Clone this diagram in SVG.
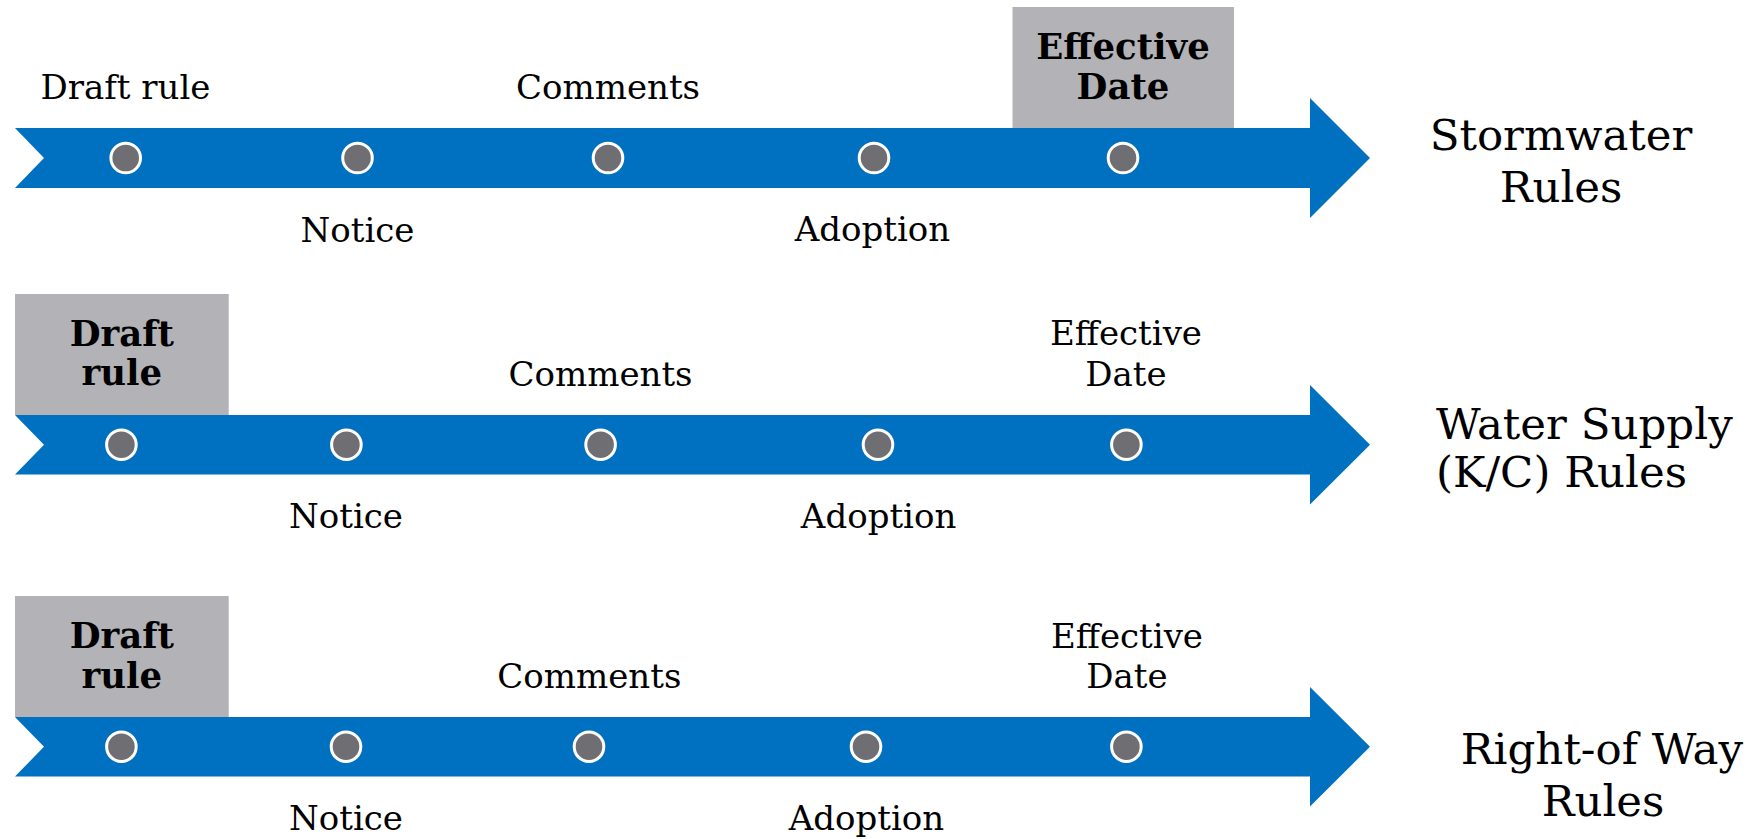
<svg xmlns="http://www.w3.org/2000/svg" width="1761" height="839" viewBox="0 0 1761 839">
<style>
.bar{fill:#0070c0}
.box{fill:#b3b2b7}
.dot{fill:#6f6e73;stroke:#ffffff;stroke-width:3}
text{font-family:"DejaVu Serif","Liberation Serif",serif;fill:#000;text-anchor:middle}
.lbl{font-size:34px}
.bold{font-size:35.5px;font-weight:bold}
.title{font-size:43.5px}
</style>
<rect width="1761" height="839" fill="#ffffff"/>
<g id="connectors">
<polygon class="bar" points="15,128 1310,128 1310,98 1370,158 1310,218 1310,188 15,188 44,158"/>
<polygon class="bar" points="15,415 1310,415 1310,385 1370,444.7 1310,504.5 1310,474.5 15,474.5 44,444.7"/>
<polygon class="bar" points="15,717 1310,717 1310,687 1370,746.7 1310,806.5 1310,776.5 15,776.5 44,746.7"/>
</g>
<g id="row1">
<g id="r1-effective-box"><rect class="box" x="1012.5" y="7" width="221.5" height="121"/>
<text class="bold" x="1123" y="59">Effective</text><text class="bold" x="1123" y="99">Date</text></g>
<g id="r1-draft"><circle class="dot" cx="125.7" cy="158" r="14.8"/><text class="lbl" x="125.5" y="99">Draft rule</text></g>
<g id="r1-notice"><circle class="dot" cx="357.5" cy="158" r="14.8"/><text class="lbl" x="357.5" y="241.5">Notice</text></g>
<g id="r1-comments"><circle class="dot" cx="608" cy="158" r="14.8"/><text class="lbl" x="608" y="99">Comments</text></g>
<g id="r1-adoption"><circle class="dot" cx="874" cy="158" r="14.8"/><text class="lbl" x="872.5" y="241">Adoption</text></g>
<g id="r1-effective"><circle class="dot" cx="1123" cy="158" r="14.8"/></g>
<g id="r1-title"><text class="title" x="1561" y="150">Stormwater</text><text class="title" x="1561" y="201.5">Rules</text></g>
</g>
<g id="row2">
<g id="r2-draft"><rect class="box" x="15" y="294" width="213.7" height="121"/>
<text class="bold" x="121.8" y="345.7">Draft</text><text class="bold" x="121.8" y="385">rule</text>
<circle class="dot" cx="121.4" cy="444.7" r="14.8"/></g>
<g id="r2-notice"><circle class="dot" cx="346.4" cy="444.7" r="14.8"/><text class="lbl" x="346" y="528.3">Notice</text></g>
<g id="r2-comments"><circle class="dot" cx="600.6" cy="444.7" r="14.8"/><text class="lbl" x="600.5" y="386">Comments</text></g>
<g id="r2-adoption"><circle class="dot" cx="878" cy="444.7" r="14.8"/><text class="lbl" x="878.6" y="528">Adoption</text></g>
<g id="r2-effective"><circle class="dot" cx="1126.4" cy="444.7" r="14.8"/><text class="lbl" x="1126" y="345">Effective</text><text class="lbl" x="1126" y="386">Date</text></g>
<g id="r2-title"><text class="title" x="1436" y="439" style="text-anchor:start">Water Supply</text><text class="title" x="1436" y="487" style="text-anchor:start">(K/C) Rules</text></g>
</g>
<g id="row3">
<g id="r3-draft"><rect class="box" x="15" y="596" width="213.7" height="121"/>
<text class="bold" x="121.8" y="648.3">Draft</text><text class="bold" x="121.8" y="688.3">rule</text>
<circle class="dot" cx="121.4" cy="746.7" r="14.8"/></g>
<g id="r3-notice"><circle class="dot" cx="346" cy="746.7" r="14.8"/><text class="lbl" x="346" y="830">Notice</text></g>
<g id="r3-comments"><circle class="dot" cx="589" cy="746.7" r="14.8"/><text class="lbl" x="589.3" y="688.3">Comments</text></g>
<g id="r3-adoption"><circle class="dot" cx="866" cy="746.7" r="14.8"/><text class="lbl" x="866.5" y="830">Adoption</text></g>
<g id="r3-effective"><circle class="dot" cx="1126.4" cy="746.7" r="14.8"/><text class="lbl" x="1127" y="648.3">Effective</text><text class="lbl" x="1127" y="688.3">Date</text></g>
<g id="r3-title"><text class="title" x="1602" y="764">Right-of Way</text><text class="title" x="1603" y="815.7">Rules</text></g>
</g>
</svg>
